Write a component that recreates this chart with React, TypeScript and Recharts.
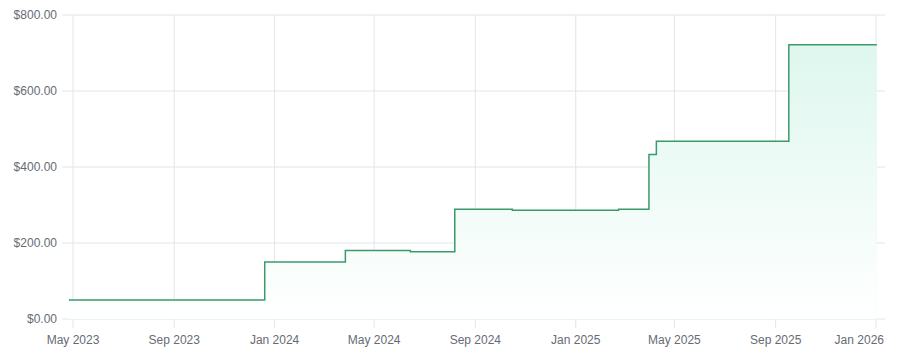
import React from 'react';
import { AreaChart, Area, XAxis, YAxis, CartesianGrid } from 'recharts';

const dates = [
  '2023-04-26', '2023-12-20', '2024-03-27', '2024-06-14', '2024-08-07', '2024-10-16',
  '2025-02-22', '2025-03-31', '2025-04-09', '2025-09-17', '2026-01-02',
];
const values = [50, 150, 180, 177, 289, 286, 289, 433, 468, 722, 722];
const xTickDates = [
  '2023-05-01', '2023-09-01', '2024-01-01', '2024-05-01', '2024-09-01',
  '2025-01-01', '2025-05-01', '2025-09-01', '2026-01-01',
];
const yTicks = [0, 200, 400, 600, 800];
const monthNames = ['Jan', 'Feb', 'Mar', 'Apr', 'May', 'Jun', 'Jul', 'Aug', 'Sep', 'Oct', 'Nov', 'Dec'];

const toTs = (s: string) => Date.parse(s + 'T00:00:00Z');
const data = dates.map((d, i) => ({ t: toTs(d), v: values[i] }));
const xTicks = xTickDates.map(toTs);
const DAY = 86400000;
const xDomain = [toTs('2023-04-17') + 0.6 * DAY, toTs('2026-01-11') + 0.9 * DAY];

const fmtDate = (t: number) => {
  const d = new Date(t);
  return `${monthNames[d.getUTCMonth()]} ${d.getUTCFullYear()}`;
};
const fmtMoney = (v: number) => `$${v.toFixed(2)}`;

const textColor = '#666b73';
const gridColor = '#e0e6e9';
const fontFamily = 'Liberation Sans, Arial, sans-serif';

const XTick = (props: any) => {
  const { x, y, payload, index, visibleTicksCount } = props;
  const isLast = index === (visibleTicksCount ?? xTicks.length) - 1;
  return (
    <text
      x={isLast ? 884 : x}
      y={y}
      dy="0.71em"
      textAnchor={isLast ? 'end' : 'middle'}
      fill={textColor}
      fontSize={12}
      fontFamily={fontFamily}
    >
      {fmtDate(payload.value)}
    </text>
  );
};

export default function App() {
  return (
    <div style={{ position: 'absolute', left: 0, top: 0 }}>
      <AreaChart
        width={898}
        height={362}
        data={data}
        margin={{ top: 15, right: 13, bottom: 0, left: 0 }}
      >
        <defs>
          <linearGradient id="fillG" x1="0" y1="0" x2="0" y2="1">
            <stop offset="0%" stopColor="#def7ef" stopOpacity={1} />
            <stop offset="100%" stopColor="#ffffff" stopOpacity={1} />
          </linearGradient>
        </defs>
        <CartesianGrid stroke={gridColor} strokeWidth={1} syncWithTicks />
        <XAxis
          dataKey="t"
          type="number"
          scale="time"
          domain={xDomain}
          ticks={xTicks}
          tickFormatter={fmtDate}
          axisLine={false}
          tickLine={{ stroke: gridColor }}
          tickSize={9}
          tickMargin={7}
          height={43}
          interval={0}
          allowDataOverflow
          tick={<XTick />}
        />
        <YAxis
          domain={[0, 800]}
          ticks={yTicks}
          tickFormatter={fmtMoney}
          axisLine={false}
          tickLine={false}
          tickSize={0}
          tickMargin={5}
          width={62}
          tick={{ fill: textColor, fontSize: 12, fontFamily }}
        />
        <Area
          type="stepAfter"
          dataKey="v"
          stroke="#3a9a6c"
          strokeWidth={1.5}
          fill="url(#fillG)"
          fillOpacity={1}
          dot={false}
          activeDot={false}
          isAnimationActive={false}
        />
      </AreaChart>
    </div>
  );
}
